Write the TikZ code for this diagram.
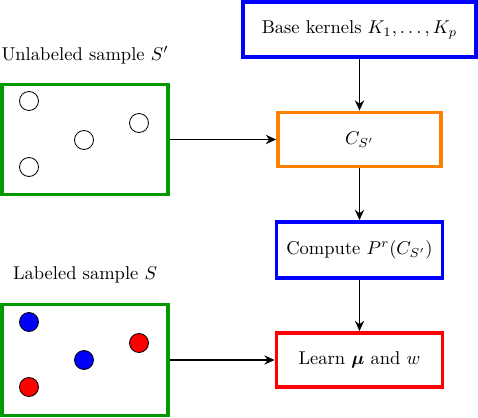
\documentclass[tikz,border=0pt]{standalone}
\usepackage{amsmath, amssymb}
\usepackage{bm}
\usepackage{xcolor}
\usepackage{tikz}
\usetikzlibrary{arrows.meta}

\definecolor{boxgreen}{RGB}{0,153,0}
\definecolor{boxorange}{RGB}{255,128,0}
\newcommand{\pxu}{0.54pt}

\tikzset{
    flowbox/.style={draw, line width=2.1pt, rectangle, inner sep=0pt, fill=white},
    samplebox/.style={flowbox, draw=boxgreen, minimum width=166*\pxu, minimum height=110*\pxu},
    dot/.style={draw=black, line width=0.45pt, circle, minimum size=19*\pxu, inner sep=0pt},
    flow/.style={-{Stealth[length=5.5pt,width=5pt]}, line width=0.8pt}
}

\begin{document}
\begin{tikzpicture}[x=\pxu, y=-\pxu]
                    \useasboundingbox (0,0) rectangle (478,418);

                    % 放置右侧流程方框
                    \node[flowbox, draw=blue, minimum width=233*\pxu, minimum height=55*\pxu]
                        (kernels) at (359.5,29.5) {Base kernels $K_1,\ldots,K_p$};
                    \node[flowbox, draw=boxorange, minimum width=163*\pxu, minimum height=54*\pxu]
                        (csp) at (359.5,139.5) {$C_{S'}$};
                    \node[flowbox, draw=blue, minimum width=166*\pxu, minimum height=56*\pxu]
                        (compute) at (359.5,250) {Compute $P^r(C_{S'})$};
                    \node[flowbox, draw=red, minimum width=166*\pxu, minimum height=54*\pxu]
                        (learn) at (359.5,360) {Learn $\bm{\mu}$ and $w$};

                    % 放置左侧样本方框
                    \node[samplebox] (unlab) at (85,139.5) {};
                    \node (unlabtxt) at (85,55) {Unlabeled sample $S'$};
                    \node[samplebox, minimum height=111*\pxu] (lab) at (85,360) {};
                    \node (labtxt) at (85,275) {Labeled sample $S$};

                    % 样本点
                    \node[dot] (u1) at (29,101) {};
                    \node[dot] (u2) at (84,140) {};
                    \node[dot] (u3) at (139,123) {};
                    \node[dot] (u4) at (29,167) {};
                    \node[dot, fill=blue] (l1) at (29,322) {};
                    \node[dot, fill=red] (l2) at (139,343) {};
                    \node[dot, fill=blue] (l3) at (84,360) {};
                    \node[dot, fill=red] (l4) at (29,387) {};

                    % 画箭头
                    \draw[flow] (kernels) -- (csp);
                    \draw[flow] (csp) -- (compute);
                    \draw[flow] (compute) -- (learn);
                    \draw[flow] (unlab) -- (csp);
                    \draw[flow] (lab) -- (learn);
                \end{tikzpicture}
\end{document}
